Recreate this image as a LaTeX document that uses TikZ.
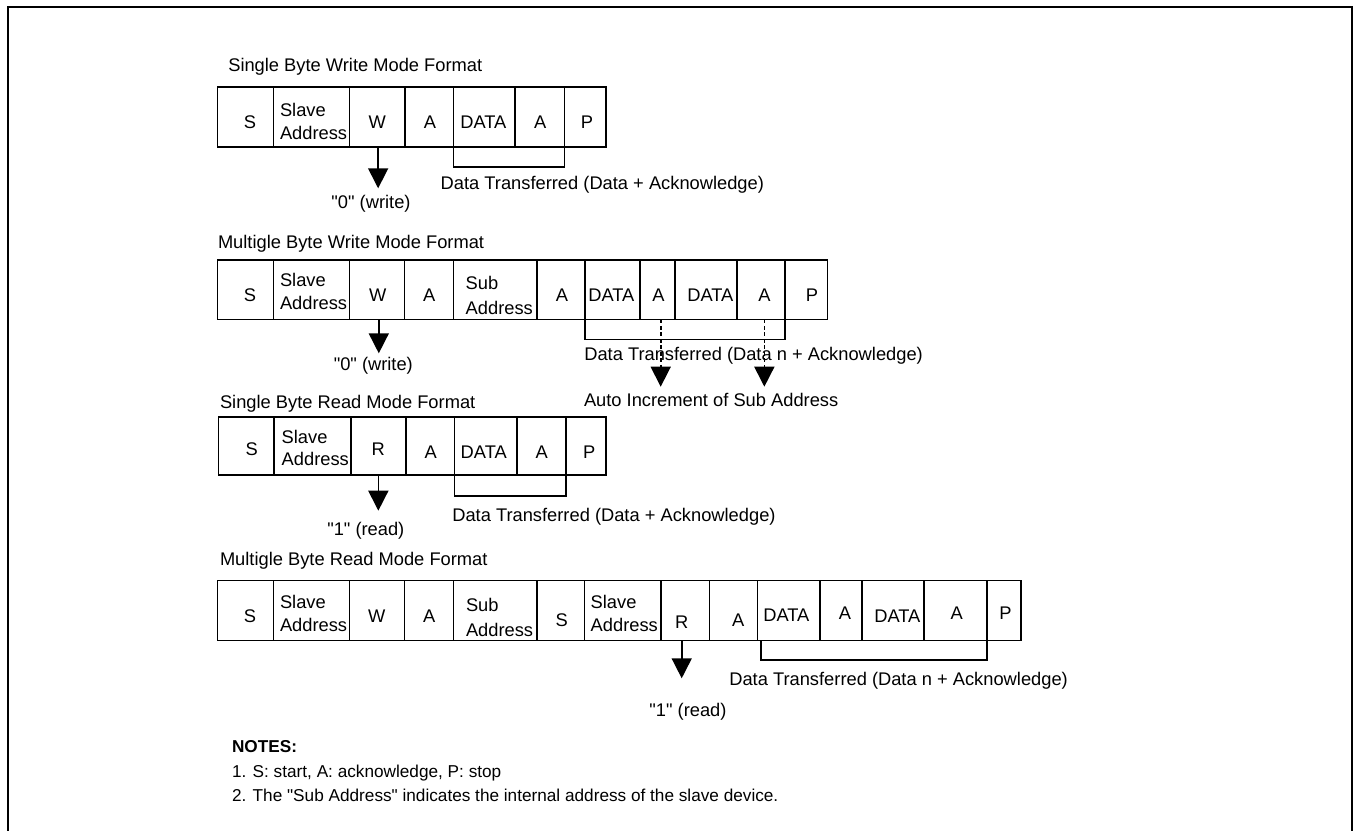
\documentclass[tikz,border=0pt]{standalone}
\usepackage{fontspec}
\setmainfont{Liberation Sans}[Ligatures=TeXOff]
\usetikzlibrary{arrows.meta}
\tikzset{
  cell/.style={draw, line width=1.6pt, inner sep=0pt, outer sep=0pt},
  txt/.style={inner sep=0pt, outer sep=0pt, font=\fontsize{18.3}{22}\selectfont},
  note/.style={inner sep=0pt, outer sep=0pt, font=\fontsize{17.2}{20}\selectfont},
  brk/.style={line width=1.6pt},
  arr/.style={line width=1.6pt, -{Triangle[width=20pt,length=20pt]}},
  darr/.style={line width=1.6pt, dash pattern=on 4pt off 2.5pt, -{Triangle[width=20pt,length=20pt]}},
  frame/.style={line width=2.3pt}
}
\newcommand\cel[3]{\node[cell,anchor=north west,minimum width={(#3-#2)*1pt},minimum height={(\yb-\ya)*1pt}] (#1) at (#2,\ya) {};}
\newcommand\ctx[5]{\node[txt,anchor=base] (#1) at ([shift={(#3,#4)}]#2.center) {#5};}
\newcommand\ltx[5]{\node[txt,anchor=base west] (#1) at ([shift={(#3,#4)}]#2.west) {#5};}
\begin{document}
\begin{tikzpicture}[x=1pt,y=-1pt]
\useasboundingbox (0,0) rectangle (1354,830);
\draw[frame] (8.3,840) -- (8.3,7) -- (1352,7) -- (1352,840);

% ---------- Row 1 ----------
\node[txt,anchor=base west] (t1) at (228.3,71) {Single Byte Write Mode Format};
\def\ya{87}\def\yb{147}
\cel{r1s}{217.3}{273.3}
\cel{r1sa}{273.3}{349.3}
\cel{r1w}{349.3}{405}
\cel{r1a1}{405}{453.3}
\cel{r1d}{453.3}{515}
\cel{r1a2}{515}{564.3}
\cel{r1p}{564.3}{606}
\ctx{r1st}{r1s}{4.7}{11.5}{S}
\ltx{r1sat1}{r1sa}{6.7}{-0.5}{Slave}
\ltx{r1sat2}{r1sa}{6.7}{22}{Address}
\ctx{r1wt}{r1w}{0}{11.5}{W}
\ctx{r1a1t}{r1a1}{0.8}{11.5}{A}
\ltx{r1dt}{r1d}{7}{11.5}{DATA}
\ctx{r1a2t}{r1a2}{0.5}{11.5}{A}
\ctx{r1pt}{r1p}{1.7}{11.5}{P}
\draw[brk] (r1d.south west) -- ++(0,19.7) -| (r1a2.south east);
\draw[arr] ([xshift=1pt]r1w.south) -- ++(0,41.3) coordinate (r1tip);
\node[txt,anchor=base] (r1lbl) at (371,208.3) {"0" (write)};
\node[txt,anchor=base west] (r1dt2) at (440.7,189.3) {Data Transferred (Data + Acknowledge)};

% ---------- Row 2 ----------
\node[txt,anchor=base west] (t2) at (218,248.5) {Multigle Byte Write Mode Format};
\def\ya{260}\def\yb{319.3}
\cel{r2s}{217.3}{273.3}
\cel{r2sa}{273.3}{349.3}
\cel{r2w}{349.3}{404.3}
\cel{r2a1}{404.3}{453.3}
\cel{r2sub}{453.3}{536.7}
\cel{r2a2}{536.7}{585}
\cel{r2d1}{585}{640}
\cel{r2a3}{640}{675}
\cel{r2d2}{675}{736.7}
\cel{r2a4}{736.7}{785}
\cel{r2p}{785}{827.3}
\ctx{r2st}{r2s}{4.7}{11.5}{S}
\ltx{r2sat1}{r2sa}{6.7}{-3}{Slave}
\ltx{r2sat2}{r2sa}{6.7}{20.2}{Address}
\ctx{r2wt}{r2w}{1}{11.5}{W}
\ctx{r2a1t}{r2a1}{0.5}{11.5}{A}
\ltx{r2subt1}{r2sub}{12.4}{0.2}{Sub}
\ltx{r2subt2}{r2sub}{12.4}{25.2}{Address}
\ctx{r2a2t}{r2a2}{1}{12}{A}
\ltx{r2d1t}{r2d1}{3.3}{12}{DATA}
\ctx{r2a3t}{r2a3}{1}{12}{A}
\ltx{r2d2t}{r2d2}{12.3}{12}{DATA}
\ctx{r2a4t}{r2a4}{3.5}{12}{A}
\ctx{r2pt}{r2p}{5.7}{12}{P}
\draw[brk] (r2d1.south west) -- ++(0,20) -| (r2a4.south east);
\draw[arr] ([xshift=2pt]r2w.south) -- ++(0,34) coordinate (r2tip);
\node[txt,anchor=base] (r2lbl) at (373.3,370) {"0" (write)};
\node[txt,anchor=base west] (r2dt) at (584.3,360) {Data Transferred (Data n + Acknowledge)};
\node[txt,anchor=base west] (r2auto) at (584,406.6) {Auto Increment of Sub Address};
\draw[darr] ([xshift=3.2pt]r2a3.south) -- ++(0,67.4) coordinate (r2tipa);
\draw[darr] ([xshift=3.5pt]r2a4.south) -- ++(0,67.4) coordinate (r2tipb);

% ---------- Row 3 ----------
\node[txt,anchor=base west] (t3) at (220,408.3) {Single Byte Read Mode Format};
\def\ya{416.7}\def\yb{475}
\cel{r3s}{218.3}{274}
\cel{r3sa}{274}{350.7}
\cel{r3r}{350.7}{406}
\cel{r3a1}{406}{454.3}
\cel{r3d}{454.3}{516.7}
\cel{r3a2}{516.7}{566}
\cel{r3p}{566}{606}
\ctx{r3st}{r3s}{5.5}{9.5}{S}
\ltx{r3sat1}{r3sa}{7.7}{-2.5}{Slave}
\ltx{r3sat2}{r3sa}{7.7}{20}{Address}
\ctx{r3rt}{r3r}{0}{10}{R}
\ctx{r3a1t}{r3a1}{0.5}{13}{A}
\ltx{r3dt}{r3d}{6.4}{13}{DATA}
\ctx{r3a2t}{r3a2}{0.3}{13}{A}
\ctx{r3pt}{r3p}{3.3}{13}{P}
\draw[brk] (r3d.south west) -- ++(0,21) -| (r3a2.south east);
\draw[arr] (r3r.south) -- ++(0,35.7) coordinate (r3tip);
\node[txt,anchor=base] (r3lbl) at (365.8,535) {"1" (read)};
\node[txt,anchor=base west] (r3dt2) at (452.3,521.6) {Data Transferred (Data + Acknowledge)};

% ---------- Row 4 ----------
\node[txt,anchor=base west] (t4) at (220,565) {Multigle Byte Read Mode Format};
\def\ya{580.5}\def\yb{640.5}
\cel{r4s}{217.3}{273.3}
\cel{r4sa}{273.3}{349.3}
\cel{r4w}{349.3}{404.3}
\cel{r4a1}{404.3}{453.3}
\cel{r4sub}{453.3}{536.7}
\cel{r4s2}{536.7}{584.3}
\cel{r4sa2}{584.3}{660.7}
\cel{r4r}{660.7}{709.3}
\cel{r4a2}{709.3}{757.3}
\cel{r4d1}{757.3}{820}
\cel{r4a3}{820}{861.7}
\cel{r4d2}{861.7}{924}
\cel{r4a4}{924}{986.7}
\cel{r4p}{986.7}{1021}
\ctx{r4st}{r4s}{4.7}{11.8}{S}
\ltx{r4sat1}{r4sa}{6.7}{-2.3}{Slave}
\ltx{r4sat2}{r4sa}{6.7}{21}{Address}
\ctx{r4wt}{r4w}{0}{11.8}{W}
\ctx{r4a1t}{r4a1}{0.5}{11.8}{A}
\ltx{r4subt1}{r4sub}{12.7}{1}{Sub}
\ltx{r4subt2}{r4sub}{12.7}{26}{Address}
\ctx{r4s2t}{r4s2}{1.2}{16}{S}
\ltx{r4sa2t1}{r4sa2}{6.4}{-2.3}{Slave}
\ltx{r4sa2t2}{r4sa2}{6.4}{21}{Address}
\ctx{r4rt}{r4r}{-3.3}{17.7}{R}
\ctx{r4a2t}{r4a2}{5}{16}{A}
\ltx{r4d1t}{r4d1}{6}{11}{DATA}
\ctx{r4a3t}{r4a3}{4.2}{8.5}{A}
\ltx{r4d2t}{r4d2}{12.6}{11.5}{DATA}
\ctx{r4a4t}{r4a4}{1.4}{8.5}{A}
\ctx{r4pt}{r4p}{1.7}{8.5}{P}
\draw[brk] ([xshift=3.4pt]r4d1.south west) -- ++(0,19.5) -| (r4a4.south east);
\draw[arr] ([xshift=-3.3pt]r4r.south) -- ++(0,37.8) coordinate (r4tip);
\node[txt,anchor=base] (r4lbl) at (688,716.6) {"1" (read)};
\node[txt,anchor=base west] (r4dt) at (729.3,685) {Data Transferred (Data n + Acknowledge)};

% ---------- Notes ----------
\node[note,anchor=base west,font=\fontsize{17.2}{20}\selectfont\bfseries] (n0) at (232,752.5) {NOTES:};
\node[note,anchor=base west] (n1) at (232,777.5) {1. S: start, A: acknowledge, P: stop};
\node[note,anchor=base west] (n2) at (232,801.5) {2. The "Sub Address" indicates the internal address of the slave device.};
\end{tikzpicture}
\end{document}
